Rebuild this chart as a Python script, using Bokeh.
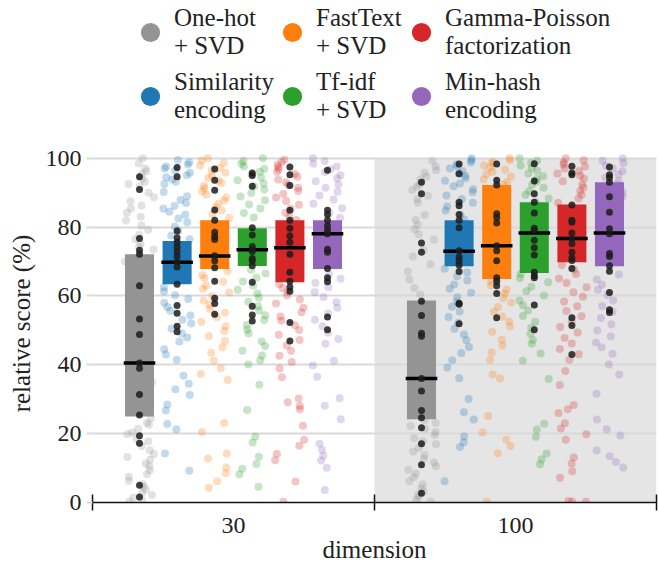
from bokeh.plotting import figure
from bokeh.layouts import column
from bokeh.models import (ColumnDataSource, Range1d, FixedTicker, BoxAnnotation,
                          Legend, LegendItem)
from bokeh.transform import jitter
from bokeh.embed import file_html
from bokeh.resources import INLINE

FONT = "Liberation Serif"

dimensions = ["30", "100"]
encoders = ["One-hot\n+ SVD", "Similarity\nencoding", "FastText\n+ SVD",
            "Tf-idf\n+ SVD", "Gamma-Poisson\nfactorization", "Min-hash\nencoding"]
colors = ["#949494", "#1f77b4", "#ff7f0e", "#2ca02c", "#d62728", "#9467bd"]

# box statistics (q1, median, q3) per dimension, per encoder
q1_30 = [25.0, 63.4, 67.8, 68.7, 64.0, 67.8]
med_30 = [40.5, 69.8, 71.6, 73.4, 74.0, 78.1]
q3_30 = [72.1, 76.0, 82.0, 79.7, 82.0, 82.0]
q1_100 = [24.2, 68.6, 64.9, 66.7, 69.8, 68.6]
med_100 = [36.0, 73.0, 74.6, 78.3, 76.7, 78.3]
q3_100 = [58.7, 82.0, 92.2, 87.2, 86.6, 93.0]

# highlighted (dark) points per encoder
dark_30 = [
    [94.6, 90.9, 76.7, 73.3, 72.1, 63.0, 53.3, 48.8, 40.5, 39.0, 31.4, 25.4, 19.4, 17.2, 5.0, 1.6],
    [97.3, 94.6, 78.9, 76.9, 75.6, 74.2, 72.9, 71.5, 69.8, 68.4, 63.4, 57.2, 55.0, 51.2, 49.6],
    [96.9, 93.6, 90.7, 85.0, 82.0, 78.5, 77.3, 76.4, 71.7, 70.2, 68.2, 64.3, 59.3, 57.8, 54.7],
    [95.7, 95.0, 91.9, 79.8, 77.7, 74.4, 73.6, 72.9, 70.9, 70.2, 68.8, 64.0, 57.0, 54.5, 52.7],
    [97.5, 95.2, 92.1, 84.9, 82.0, 79.7, 77.5, 75.6, 72.1, 66.9, 64.3, 62.6, 61.4, 52.3, 46.9],
    [96.5, 84.9, 83.7, 82.0, 80.4, 79.1, 78.1, 73.6, 72.7, 68.0, 65.3, 64.1, 53.9, 50.2],
]
dark_100 = [
    [93.0, 89.7, 75.4, 72.7, 58.5, 54.3, 49.2, 48.3, 36.0, 32.4, 26.7, 24.6, 21.7, 17.1, 11.0, 2.7],
    [98.3, 95.5, 87.2, 86.2, 83.7, 82.0, 79.8, 73.1, 71.3, 70.2, 69.0, 67.1, 57.9, 57.6, 51.9],
    [98.3, 93.6, 92.2, 83.9, 82.8, 81.2, 74.6, 73.1, 70.2, 65.3, 64.3, 63.0, 60.7, 53.7],
    [98.4, 93.4, 89.7, 87.2, 84.1, 79.7, 79.1, 76.2, 74.0, 71.9, 66.9, 65.9, 65.3, 57.4, 50.2],
    [97.7, 95.7, 95.2, 86.4, 82.0, 81.4, 78.3, 76.6, 75.2, 72.7, 71.0, 70.3, 68.0, 53.7, 51.4, 43.0],
    [97.5, 95.2, 94.4, 93.0, 88.8, 84.3, 79.5, 78.1, 72.3, 71.5, 68.8, 67.2, 61.0, 56.0, 55.2],
]

# all other (light) points per encoder
light_30 = [
    [100, 98.5, 97, 96.2, 95.5, 94, 93.2, 92.5, 91.8, 90, 88.7, 87.5, 86.3, 85.4, 84.2, 83, 81.9,
     80.5, 79.2, 77.8, 76.5, 75, 74.2, 73.5, 70, 60, 50, 35, 24.5, 23.2, 22.6, 21.4, 20.3, 19.8,
     18.5, 17.8, 16.4, 15.2, 14.1, 13.2, 12.4, 11.3, 10.5, 9.4, 8.2, 7.5, 6.3, 5.4, 4.6, 3.8, 2.9,
     2.2, 1.4, 0.8, 0.3],
    [99.5, 98.8, 98.2, 97.6, 97, 96.4, 95.8, 95.1, 94.5, 93.8, 93.2, 92.5, 90.2, 89, 87.9, 87, 86.1,
     85.3, 84.5, 83.6, 82.5, 81.4, 80.2, 79, 77.6, 76.5, 62.5, 61.3, 60.2, 59.1, 58, 56.8, 55.7,
     54.3, 53.1, 52, 50.5, 49.2, 47.9, 46.8, 44.5, 43, 41.5, 36.8, 34.5, 32.9, 31.2, 28.5, 26.7,
     22.8, 21.3, 14.2, 9.2],
    [100, 99.3, 98.6, 97.9, 97.2, 96.5, 95.8, 95, 94.3, 93.5, 92.8, 92, 91.2, 90.4, 89.5, 88.6,
     87.7, 86.8, 85.8, 84.8, 83.8, 82.7, 67.2, 66.1, 65.2, 64.1, 63, 62.1, 61, 59.9, 58.7, 57.5,
     56.2, 55.1, 53.8, 52.4, 51.2, 49.8, 48.3, 46.9, 45.1, 43.5, 41.2, 39, 37.3, 35.6, 23.1, 20.5,
     14.2, 12.8, 10.2, 8.5, 6.2, 4.3],
    [100, 99.2, 98.4, 97.6, 96.9, 96.1, 95.3, 94.4, 93.6, 92.7, 91.8, 90.9, 89.9, 88.9, 87.8, 86.6,
     85.4, 84.1, 82.8, 67.6, 66.5, 65.3, 64.2, 63, 61.8, 60.7, 59.5, 58.3, 57.1, 55.8, 54.4, 53,
     51.6, 50.2, 49.1, 46.8, 45.5, 44.1, 42.7, 41.3, 40.1, 34.2, 26.9, 19.1, 17.4, 13.3, 11.2, 9.8,
     8.2, 4.6],
    [99.6, 98.9, 98.2, 97.5, 96.8, 96.1, 95.4, 94.6, 93.8, 93, 92.2, 91.4, 90.5, 89.6, 88.6, 87.6,
     86.5, 85.4, 84.2, 83, 82.1, 63.4, 62.3, 61.2, 60.1, 59, 57.8, 56.6, 55.3, 54, 52.8, 51.5, 50.1,
     48.7, 47.2, 45.6, 44.1, 42.6, 40.8, 38.9, 36.4, 30.2, 29.1, 28, 27.1, 22.3, 18.2, 16.5, 14.1,
     12.3, 6.1, 0.2],
    [100, 99.2, 98.4, 97.6, 96.8, 96, 95.1, 94.2, 93.3, 92.4, 91.4, 90.3, 89.2, 88, 86.8, 85.5,
     84.1, 82.7, 66.2, 65, 63.8, 62.5, 61.1, 59.7, 58.2, 56.6, 54.9, 53.1, 51.2, 49.3, 47.5, 46.1,
     41.2, 39.8, 36.5, 30.3, 28.1, 24.2, 17.1, 15.3, 13.6, 12.2, 10.1, 3.6],
]
light_100 = [
    [99.2, 97.6, 96.5, 95.8, 94.6, 93.9, 92.4, 91.7, 90.8, 89.1, 88.2, 87.1, 83.5, 82.1, 80.6, 79.4,
     77.9, 76.4, 73.2, 71.5, 69.2, 67.1, 64.8, 62.3, 60.4, 50, 40, 30, 24, 23.1, 22.2, 21.4, 20.5,
     19.6, 18.7, 17.8, 16.9, 15.9, 14.8, 13.8, 12.7, 11.6, 10.5, 9.5, 8.4, 7.3, 6.2, 5.2, 4.1, 3.2,
     2.3, 1.5, 0.8, 0.3],
    [100, 99.4, 98.8, 98.2, 97.6, 97, 96.3, 95.6, 94.9, 94.2, 93.5, 92.7, 91.9, 91, 90.1, 89.2,
     88.2, 87.1, 86, 84.8, 83.5, 82.2, 67.9, 66.8, 65.7, 64.5, 63.3, 62.1, 60.9, 59.6, 58.3, 56.9,
     55.5, 53.9, 52.2, 50.5, 48.8, 47.1, 45.2, 43.4, 41.3, 39.2, 36.1, 30.1, 26.2, 24.1, 19.2, 17.5,
     16.1, 6.2],
    [100, 99.5, 99, 98.5, 97.9, 97.3, 96.7, 96.1, 95.4, 94.7, 93.9, 93.1, 92.4, 64.2, 63.1, 61.9,
     60.7, 59.4, 58.1, 56.8, 55.4, 54, 52.6, 51.1, 49.6, 47.3, 45.6, 43.6, 41.4, 37.2, 36, 25.1,
     20.3, 18.2, 16.4, 14.3, 0.2],
    [100, 99.3, 98.6, 97.9, 97.2, 96.4, 95.6, 94.8, 94, 93.2, 92.3, 91.4, 90.4, 89.4, 88.3, 87.2,
     66.4, 65.2, 64, 62.7, 61.4, 60.1, 58.7, 57.3, 55.8, 54.2, 52.5, 50.8, 49, 47.2, 46.1, 43.3,
     41.2, 35.9, 22.9, 21.2, 19.1, 14.2, 12.6, 11.1],
    [100, 99.4, 98.8, 98.2, 97.6, 97, 96.3, 95.6, 94.9, 94.1, 93.3, 92.4, 91.5, 90.5, 89.4, 88.3,
     87.1, 69, 67.7, 66.4, 65.1, 63.8, 62.5, 61.1, 59.8, 58.4, 57, 55.6, 54.1, 52.6, 51, 49.4, 47.8,
     46.2, 44.6, 43.1, 41.5, 38.2, 34.1, 28.3, 27.1, 26, 23, 21.5, 19.8, 18.2, 13.1, 11.3, 9.1, 7.2,
     0.2, 0.3, 0.4],
    [100, 99.3, 98.6, 97.8, 97, 96.2, 95.3, 94.4, 93.4, 92.4, 91.3, 90.1, 88.9, 87.6, 86.3, 66.2,
     64.8, 63.3, 61.8, 60.3, 58.7, 57.1, 55.4, 53.6, 51.8, 50, 48.2, 46.5, 45.1, 43.2, 40.1, 37.2,
     31.6, 24.1, 21.3, 19.5, 15.1, 13.4, 11.8, 10.2],
]

y_ticks = [0, 20, 40, 60, 80, 100]

# ---- build sources (position = dimension index + encoder offset) ----
n_enc = len(encoders)
step = 0.8 / n_enc
offsets = [(i - (n_enc - 1) / 2) * step for i in range(n_enc)]

q1s = [q1_30, q1_100]
meds = [med_30, med_100]
q3s = [q3_30, q3_100]
darks = [dark_30, dark_100]
lights = [light_30, light_100]

box = dict(x=[], q1=[], med=[], q3=[], color=[])
lt = dict(x=[], y=[], color=[])
dk = dict(x=[], y=[])
for gi in range(len(dimensions)):
    for ei in range(n_enc):
        xc = gi + offsets[ei]
        box["x"].append(xc)
        box["q1"].append(q1s[gi][ei])
        box["med"].append(meds[gi][ei])
        box["q3"].append(q3s[gi][ei])
        box["color"].append(colors[ei])
        for v in lights[gi][ei]:
            lt["x"].append(xc)
            lt["y"].append(v)
            lt["color"].append(colors[ei])
        for v in darks[gi][ei]:
            dk["x"].append(xc)
            dk["y"].append(v)

# ---------------- legend strip (3 columns of 2 entries) ----------------
lf = figure(width=659, height=144, output_backend="svg", toolbar_location=None,
            x_range=Range1d(0, 1), y_range=Range1d(0, 1),
            x_axis_location=None, y_axis_location=None,
            min_border_left=0, min_border_right=0, min_border_top=0, min_border_bottom=0)
lf.outline_line_color = None
lf.grid.visible = False

nan = float("nan")
legend_columns = [[0, 1], [2, 3], [4, 5]]
column_x = [34, 176, 305]
for col, lx in zip(legend_columns, column_x):
    items = []
    for ei in col:
        r = lf.scatter(x=[nan], y=[nan], marker="circle", size=10,
                       fill_color=colors[ei], line_color=None)
        items.append(LegendItem(label=encoders[ei], renderers=[r]))
    lg = Legend(items=items, orientation="vertical",
                label_text_font=FONT, label_text_font_size="25px",
                label_text_color="#222222", label_standoff=0,
                glyph_width=48, glyph_height=48, spacing=8,
                padding=0, margin=0, border_line_color=None,
                background_fill_alpha=0, location=(lx, 20))
    lf.add_layout(lg, "center")

# ---------------- main plot ----------------
p = figure(width=659, height=421, output_backend="svg", toolbar_location=None,
           x_range=Range1d(-0.5, 1.5), y_range=Range1d(0, 104),
           min_border_left=92, min_border_right=3, min_border_top=0,
           min_border_bottom=0)
p.outline_line_color = None
p.background_fill_color = "white"
p.border_fill_color = "white"

band = BoxAnnotation(left=0.5, right=1.5, bottom=0, top=100,
                     fill_color="#e5e5e5", fill_alpha=1.0, line_color=None,
                     level="image")
p.add_layout(band)

p.scatter(x=jitter("x", width=0.105, distribution="uniform"), y="y",
          source=ColumnDataSource(lt), size=8, fill_color="color",
          fill_alpha=0.27, line_color=None)
p.vbar(x="x", width=0.103, bottom="q1", top="q3", source=ColumnDataSource(box),
       fill_color="color", line_color=None)
p.rect(x="x", y="med", width=0.112, height=3.5, height_units="screen",
       source=ColumnDataSource(box), fill_color="black", line_color=None)
p.scatter(x="x", y="y", source=ColumnDataSource(dk), size=7,
          fill_color="#1c1c1c", fill_alpha=0.85, line_color=None)

p.xgrid.grid_line_color = None
p.ygrid.grid_line_color = "#d9d9d9"
p.ygrid.grid_line_width = 2
p.ygrid.ticker = FixedTicker(ticks=y_ticks)

xa = p.xaxis[0]
xa.ticker = FixedTicker(ticks=[0, 1], minor_ticks=[-0.5, 0.5, 1.5])
xa.major_label_overrides = {0: dimensions[0], 1: dimensions[1]}
xa.major_tick_in = 0
xa.major_tick_out = 0
xa.minor_tick_in = 8
xa.minor_tick_out = 8
xa.minor_tick_line_color = "#111111"
xa.minor_tick_line_width = 1.5
xa.axis_line_color = "#111111"
xa.axis_line_width = 1.5
xa.axis_label = "dimension"
xa.major_label_standoff = 7
xa.axis_label_standoff = 0

ya = p.yaxis[0]
ya.ticker = FixedTicker(ticks=y_ticks)
ya.axis_line_color = None
ya.major_tick_in = 0
ya.major_tick_out = 6
ya.major_tick_line_color = "#d9d9d9"
ya.major_tick_line_width = 2
ya.minor_tick_line_color = None
ya.axis_label = "relative score (%)"
ya.major_label_standoff = 5
ya.axis_label_standoff = 8

for ax in (xa, ya):
    ax.major_label_text_font = FONT
    ax.major_label_text_font_size = "24px"
    ax.major_label_text_color = "#222222"
    ax.axis_label_text_font = FONT
    ax.axis_label_text_font_size = "25px"
    ax.axis_label_text_font_style = "normal"
    ax.axis_label_text_color = "#222222"

open("out.html", "w").write(file_html(column(lf, p, spacing=0), INLINE))
